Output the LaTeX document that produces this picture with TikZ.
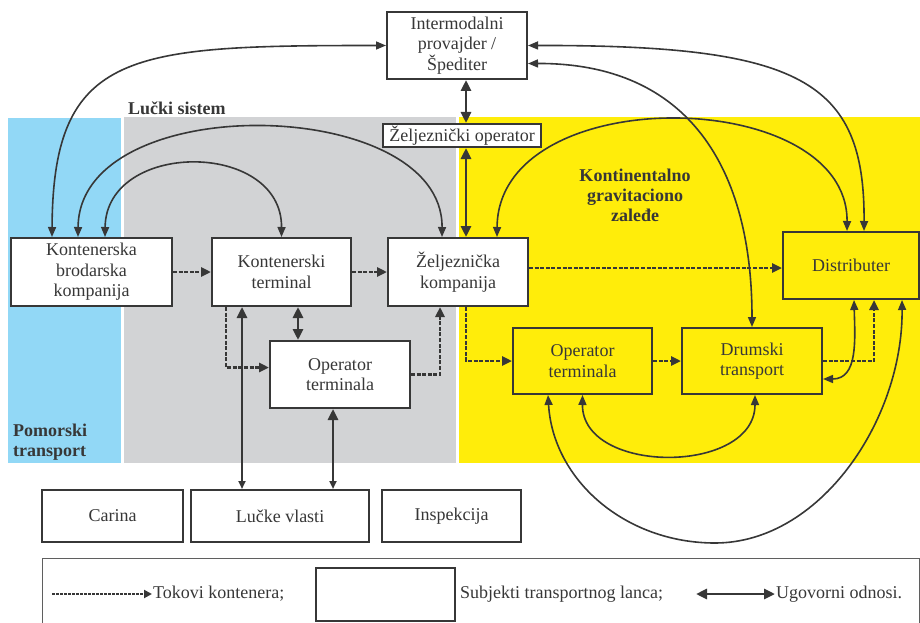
\documentclass[tikz,border=0pt]{standalone}
\usepackage{fontspec}
\setmainfont{LiberationSerif-Regular.ttf}[BoldFont=LiberationSerif-Bold.ttf]
\usetikzlibrary{arrows.meta,calc}
\definecolor{linec}{RGB}{55,55,55}
\definecolor{seablue}{RGB}{146,216,246}
\definecolor{portgray}{RGB}{210,211,213}
\definecolor{landyellow}{RGB}{255,237,10}
\begin{document}
\begin{tikzpicture}[x=1pt,y=-1pt,
 box/.style={draw=linec,line width=2pt,fill=white,text=linec,align=center,inner sep=2pt,font=\fontsize{18}{20.5}\selectfont},
 ybox/.style={box,fill=landyellow},
 contract/.style={draw=linec,line width=1.6pt,{Triangle[length=10pt,width=8pt]}-{Triangle[length=10pt,width=8pt]}},
 thickcontract/.style={draw=linec,line width=2.8pt,{Triangle[length=11pt,width=10pt]}-{Triangle[length=11pt,width=10pt]}},
 longcontract/.style={draw=linec,line width=2.6pt,{Triangle[length=11pt,width=10pt]}-{Triangle[length=8pt,width=7pt]}},
 flow/.style={draw=linec,line width=2.6pt,dash pattern=on 4pt off 1.6pt,-{Triangle[length=10pt,width=9pt]}},
 lbl/.style={text=linec,font=\fontsize{18}{20}\selectfont\bfseries,inner sep=0pt},
 lt/.style={text=linec,font=\fontsize{18}{20}\selectfont,inner sep=1pt}]
\useasboundingbox (0,0) rectangle (920,623);
% regions
\fill[seablue] (8,118) rectangle (121,463);
\fill[portgray] (124,117) rectangle (456,463);
\fill[landyellow] (459,117) rectangle (920,463);
% labels
\node[lbl,anchor=base west] (ls) at (128,114) {Lučki sistem};
\node[lbl,anchor=west,align=left] (pt) at (13,442.5) {Pomorski\\transport};
\node[lbl,align=center] (kgz) at (635,195) {Kontinentalno\\gravitaciono\\zaleđe};
% boxes
\node[box,minimum width=140pt,minimum height=67pt] (inter) at (457,45.5) {Intermodalni\\provajder /\\Špediter};
\node[box,minimum width=158pt,minimum height=23pt,inner sep=1pt] (zop) at (462,135.5) {Željeznički operator};
\node[box,minimum width=161pt,minimum height=68pt] (kbk) at (91.5,272) {Kontenerska\\brodarska\\kompanija};
\node[box,minimum width=139pt,minimum height=68pt] (kt) at (281.5,272) {Kontenerski\\terminal};
\node[box,minimum width=140pt,minimum height=68pt] (zk) at (458,272) {Željeznička\\kompanija};
\node[ybox,minimum width=136pt,minimum height=67pt] (dist) at (851,265.5) {Distributer};
\node[box,minimum width=140pt,minimum height=67pt] (otg) at (340,374.5) {Operator\\terminala};
\node[ybox,minimum width=139pt,minimum height=66pt] (oty) at (582.5,361) {Operator\\terminala};
\node[ybox,minimum width=140pt,minimum height=66pt] (dt) at (752,361) {Drumski\\transport};
\node[box,minimum width=141pt,minimum height=52pt] (carina) at (112.5,516) {Carina};
\node[box,minimum width=178pt,minimum height=52pt] (lv) at (280,516) {Lučke vlasti};
\node[box,minimum width=139pt,minimum height=52pt] (insp) at (451.5,516) {Inspekcija};
% contract curves
\draw[contract] ([xshift=42pt]kbk.north west) .. controls (53,50) and (130,45.5) .. (inter.west);
\draw[contract] ([xshift=68pt]kbk.north west) .. controls (79,88) and (443,95) .. ([xshift=55pt]zk.north west);
\draw[contract] ([xshift=95pt]kbk.north west) .. controls (106,140) and (282,140) .. (kt.north);
\draw[contract] (inter.east) .. controls (800,45) and (865,80) .. ([xshift=82pt]dist.north west);
\draw[contract] ([yshift=-18pt]inter.east) .. controls (690,63) and (752,170) .. (dt.north);
\draw[contract] ([xshift=110pt]zk.north west) .. controls (498,80) and (848,85) .. ([xshift=65pt]dist.north west);
\draw[contract] (oty.south) .. controls (582,475) and (755,475) .. ([xshift=3pt]dt.south);
\draw[contract] ([xshift=-34.5pt]oty.south) .. controls (553,480) and (625,543) .. (715,543) .. controls (820,543) and (903,420) .. ([xshift=120pt]dist.south west);
\draw[contract] ([yshift=-18pt]dt.east) .. controls (858,379) and (855,340) .. ([xshift=72pt]dist.south west);
% vertical contracts
\coordinate (c6) at ([xshift=9pt]inter.south);
\draw[thickcontract] (c6) -- (c6 |- zop.north);
\draw[thickcontract] (c6 |- zop.south) -- (c6 |- zk.north);
\coordinate (c3) at ([xshift=16.5pt]kt.south);
\draw[thickcontract] (c3) -- (c3 |- otg.north);
\coordinate (c4) at ([xshift=31pt]kt.south west);
\draw[longcontract] (c4) -- (c4 |- lv.north);
\coordinate (c5) at ([xshift=-7pt]otg.south);
\draw[longcontract] (c5) -- (c5 |- lv.north);
% container flows
\draw[flow] (kbk.east) -- (kt.west);
\draw[flow] (kt.east) -- (zk.west);
\coordinate (f1) at ([yshift=4pt]zk.east);
\draw[flow] (f1) -- (f1 -| dist.west);
\coordinate (f2) at ([yshift=7pt]otg.west);
\draw[flow] ([xshift=15pt]kt.south west) |- (f2);
\draw[flow] (otg.east) -| ([xshift=53pt]zk.south west);
\draw[flow] ([xshift=79pt]zk.south west) |- (oty.west);
\draw[flow] (oty.east) -- (dt.west);
\draw[flow] (dt.east) -| ([xshift=92pt]dist.south west);
% legend
\draw[linec!80,line width=0.8pt] (42,558) rectangle (919.5,640);
\coordinate (l1) at (52,594);
\node[lt,anchor=west] (t1) at (152,594) {Tokovi kontenera;};
\draw[draw=linec,line width=2pt,dash pattern=on 2.5pt off 1.5pt,-{Triangle[length=8pt,width=8pt]}] (l1) -- (t1.west);
\node[box,minimum width=139pt,minimum height=53pt] (legbox) at (385.5,594.5) {};
\node[lt,anchor=west] (t2) at (459,594) {Subjekti transportnog lanca;};
\coordinate (l2) at (696,594);
\node[lt,anchor=west] (t3) at (775,594) {Ugovorni odnosi.};
\draw[thickcontract] (l2) -- (t3.west);
\end{tikzpicture}
\end{document}
